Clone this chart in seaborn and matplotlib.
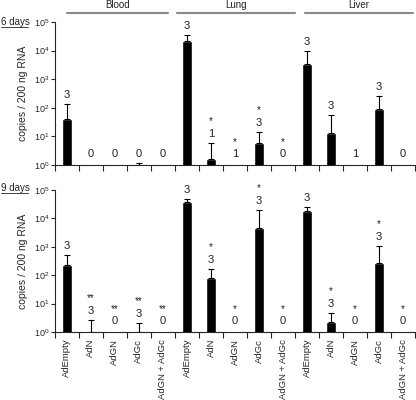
import numpy as np
import pandas as pd
import matplotlib
matplotlib.use('Agg')
import matplotlib.pyplot as plt
import matplotlib.transforms as mtransforms
from matplotlib.lines import Line2D
import seaborn as sns

# Data
vectors = ['AdEmpty', 'AdN', 'AdGN', 'AdGc', 'AdGN + AdGc']
tissues = ['Blood', 'Lung', 'Liver']

day6_mean = [40, 0, 0, 1.03, 0, 21000, 1.6, 1.02, 6, 0, 3400, 13, 1.05, 90, 0]
day6_err = [135, 0, 0, 1.15, 0, 35000, 5.9, 0, 14, 0, 9700, 56, 0, 260, 0]
day6_n = ['3', '0', '0', '0', '0', '3', '1', '1', '3', '0', '3', '3', '1', '3', '0']
day6_sig = ['', '', '', '', '', '', '*', '*', '*', '*', '', '', '', '', '']

day9_mean = [230, 1.0, 0, 1.0, 0, 38000, 80, 0, 4600, 0, 18000, 2.2, 0, 270, 0]
day9_err = [510, 2.6, 0, 2.1, 0, 48000, 165, 0, 20000, 0, 25000, 4.7, 0, 1070, 0]
day9_n = ['3', '3', '0', '3', '0', '3', '3', '0', '3', '0', '3', '3', '0', '3', '0']
day9_sig = ['', '**', '**', '**', '**', '', '*', '*', '*', '*', '', '*', '*', '*', '*']

sns.set_style('ticks')
plt.rcParams['font.family'] = ['Liberation Sans', 'DejaVu Sans']
plt.rcParams['mathtext.fontset'] = 'custom'
plt.rcParams['mathtext.rm'] = 'Liberation Sans'

fig = plt.figure(figsize=(4.16, 4.0), dpi=100)
ax1 = fig.add_axes([0.132, 0.5875, 0.866, 0.3575])
ax2 = fig.add_axes([0.132, 0.17, 0.866, 0.355])

labels = vectors * 3
pos = np.arange(len(labels))


def draw_panel(ax, mean, err, n, sig, show_labels):
    df = pd.DataFrame({'pos': pos, 'value': [m if m > 0 else np.nan for m in mean]})
    sns.barplot(data=df, x='pos', y='value', order=list(pos), color='black',
                width=0.42, saturation=1, ax=ax, errorbar=None)
    ax.set_yscale('log')
    ax.set_ylim(1, 1e5)
    ax.set_xlim(-0.5, 14.5)

    # upward error bars only
    for i in pos:
        if err[i] > 0 and mean[i] > 0:
            ax.errorbar(i, mean[i], yerr=[[0], [err[i] - mean[i]]], fmt='none',
                        ecolor='black', elinewidth=0.8, capsize=2.5, capthick=0.8)

    # n and significance labels
    for i in pos:
        top = max(mean[i], err[i], 1)
        off = 3 if err[i] > 0 else 4
        ax.annotate(n[i], (i, top), xytext=(0, off), textcoords='offset points',
                    ha='center', va='bottom', fontsize=8, color='#222222')
        if sig[i]:
            ax.annotate(sig[i], (i, top), xytext=(0, off + 9), textcoords='offset points',
                        ha='center', va='bottom', fontsize=7, color='#222222')

    sns.despine(ax=ax)
    ax.spines['left'].set_linewidth(0.8)
    ax.spines['bottom'].set_linewidth(0.8)
    ax.set_yticks([1, 10, 100, 1e3, 1e4, 1e5])
    ax.yaxis.set_minor_locator(matplotlib.ticker.NullLocator())
    ax.tick_params(axis='y', labelsize=6.5, length=3, width=0.8, pad=1)
    ax.set_xticks(pos)
    ax.set_xticks(np.arange(-0.5, 15, 1), minor=True)
    ax.tick_params(axis='x', which='major', length=0, pad=5)
    ax.tick_params(axis='x', which='minor', length=4, width=0.8)
    if show_labels:
        ax.set_xticklabels(labels, rotation=90, fontsize=6.8)
    else:
        ax.set_xticklabels([])
    ax.set_xlabel('')
    ax.set_ylabel('copies / 200 ng RNA', fontsize=7.5)
    ax.yaxis.set_label_coords(-0.075, 0.5)


draw_panel(ax1, day6_mean, day6_err, day6_n, day6_sig, False)
draw_panel(ax2, day9_mean, day9_err, day9_n, day9_sig, True)

# tissue group headers
trans = mtransforms.blended_transform_factory(ax1.transData, fig.transFigure)
spans = [(0.0, 4.2), (4.6, 9.5), (9.9, 14.4)]
for name, (a, b) in zip(tissues, spans):
    ax1.add_line(Line2D([a, b], [0.968, 0.968], transform=trans, color='#888888',
                        lw=1.5, clip_on=False))
    ax1.text((a + b) / 2, 0.974, name, transform=trans, ha='center', va='bottom',
             fontsize=7, color='#222222')

# day labels, underlined
for label, y in [('6 days', 0.945), ('9 days', 0.53)]:
    fig.text(0.002, y, label, ha='left', va='center', fontsize=7, color='#222222')
    fig.add_artist(Line2D([0.002, 0.068], [y - 0.013, y - 0.013], color='#222222', lw=0.6))

plt.savefig('out.png', dpi=100)
